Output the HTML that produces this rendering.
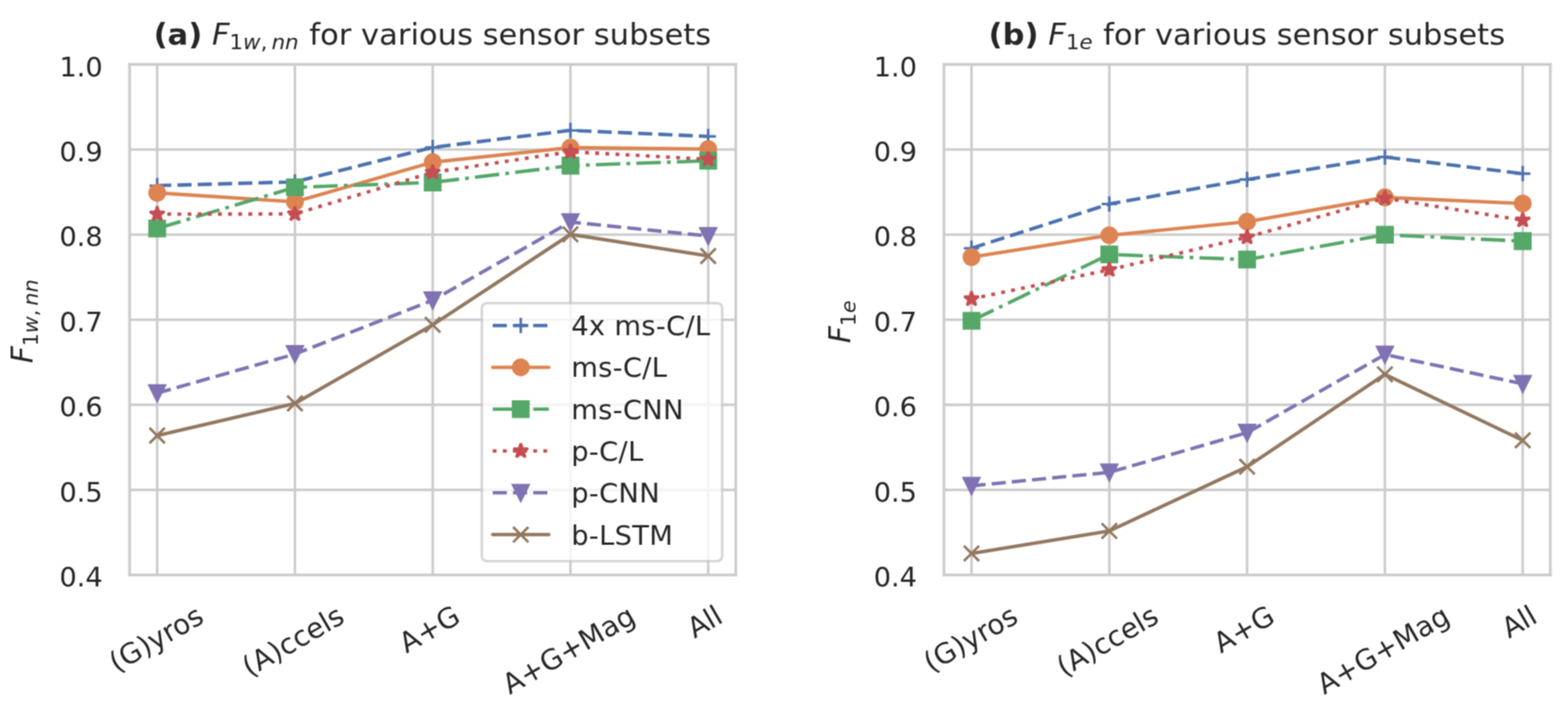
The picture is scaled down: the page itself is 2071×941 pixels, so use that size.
<!DOCTYPE html>
<html><head><meta charset="utf-8"><title>Sensor subsets</title>
<style>html,body{margin:0;padding:0;background:#fff;width:2071px;height:941px;overflow:hidden}svg{display:block}svg *{stroke-linejoin:round;stroke-linecap:butt}</style>
</head><body>
<svg width="2071" height="941" viewBox="0 0 2071 941"><defs><filter id="soft" x="0" y="0" width="1" height="1" color-interpolation-filters="sRGB"><feConvolveMatrix order="3" kernelMatrix="1 2 1 2 4 2 1 2 1" divisor="16" edgeMode="duplicate"/></filter></defs><g filter="url(#soft)">

<g id="figure_1">
<g id="patch_1">
<path d="M 0 941
L 2071 941
L 2071 0
L 0 0
z
" style="fill: #ffffff"/>
</g>
<g id="axes_1">
<g id="patch_2">
<path d="M 171.2 760
L 971.8 760
L 971.8 85.15
L 171.2 85.15
z
" style="fill: #ffffff"/>
</g>
<g id="matplotlib.axis_1">
<g id="xtick_1">
<g id="line2d_1">
<path d="M 207.590909 760
L 207.590909 85.15
" clip-path="url(#pf3c92c4328)" style="fill: none; stroke: #cccccc; stroke-width: 3.368; stroke-linecap: round"/>
</g>
<g id="text_1">
<text style="font-size: 37.048px; font-family: 'DejaVu Sans', 'Liberation Sans', sans-serif; fill: #262626" transform="translate(153.852 889.34135) rotate(-30)">(G)yros</text>
</g>
</g>
<g id="xtick_2">
<g id="line2d_2">
<path d="M 389.545455 760
L 389.545455 85.15
" clip-path="url(#pf3c92c4328)" style="fill: none; stroke: #cccccc; stroke-width: 3.368; stroke-linecap: round"/>
</g>
<g id="text_2">
<text style="font-size: 37.048px; font-family: 'DejaVu Sans', 'Liberation Sans', sans-serif; fill: #262626" transform="translate(329.539 895.078001) rotate(-30)">(A)ccels</text>
</g>
</g>
<g id="xtick_3">
<g id="line2d_3">
<path d="M 571.5 760
L 571.5 85.15
" clip-path="url(#pf3c92c4328)" style="fill: none; stroke: #cccccc; stroke-width: 3.368; stroke-linecap: round"/>
</g>
<g id="text_3">
<text style="font-size: 37.048px; font-family: 'DejaVu Sans', 'Liberation Sans', sans-serif; fill: #262626" transform="translate(536.764 863.934526) rotate(-30)">A+G</text>
</g>
</g>
<g id="xtick_4">
<g id="line2d_4">
<path d="M 753.454545 760
L 753.454545 85.15
" clip-path="url(#pf3c92c4328)" style="fill: none; stroke: #cccccc; stroke-width: 3.368; stroke-linecap: round"/>
</g>
<g id="text_4">
<text style="font-size: 37.048px; font-family: 'DejaVu Sans', 'Liberation Sans', sans-serif; fill: #262626" transform="translate(673.319 918.551383) rotate(-30)">A+G+Mag</text>
</g>
</g>
<g id="xtick_5">
<g id="line2d_5">
<path d="M 935.409091 760
L 935.409091 85.15
" clip-path="url(#pf3c92c4328)" style="fill: none; stroke: #cccccc; stroke-width: 3.368; stroke-linecap: round"/>
</g>
<g id="text_5">
<text style="font-size: 37.048px; font-family: 'DejaVu Sans', 'Liberation Sans', sans-serif; fill: #262626" transform="translate(917.133 844.351185) rotate(-30)">All</text>
</g>
</g>
</g>
<g id="matplotlib.axis_2">
<g id="ytick_1">
<g id="line2d_6">
<path d="M 171.2 760
L 971.8 760
" clip-path="url(#pf3c92c4328)" style="fill: none; stroke: #cccccc; stroke-width: 3.368; stroke-linecap: round"/>
</g>
<g id="text_6">
<text style="font-size: 36.00px; font-family: 'DejaVu Sans', 'Liberation Sans', sans-serif; text-anchor: end; fill: #262626" x="135.692" y="774.075346" transform="translate(0 1.30) rotate(-0 135.692 774.075346)">0.4</text>
</g>
</g>
<g id="ytick_2">
<g id="line2d_7">
<path d="M 171.2 647.525
L 971.8 647.525
" clip-path="url(#pf3c92c4328)" style="fill: none; stroke: #cccccc; stroke-width: 3.368; stroke-linecap: round"/>
</g>
<g id="text_7">
<text style="font-size: 36.00px; font-family: 'DejaVu Sans', 'Liberation Sans', sans-serif; text-anchor: end; fill: #262626" x="135.692" y="661.600346" transform="translate(0 1.30) rotate(-0 135.692 661.600346)">0.5</text>
</g>
</g>
<g id="ytick_3">
<g id="line2d_8">
<path d="M 171.2 535.05
L 971.8 535.05
" clip-path="url(#pf3c92c4328)" style="fill: none; stroke: #cccccc; stroke-width: 3.368; stroke-linecap: round"/>
</g>
<g id="text_8">
<text style="font-size: 36.00px; font-family: 'DejaVu Sans', 'Liberation Sans', sans-serif; text-anchor: end; fill: #262626" x="135.692" y="549.125346" transform="translate(0 1.30) rotate(-0 135.692 549.125346)">0.6</text>
</g>
</g>
<g id="ytick_4">
<g id="line2d_9">
<path d="M 171.2 422.575
L 971.8 422.575
" clip-path="url(#pf3c92c4328)" style="fill: none; stroke: #cccccc; stroke-width: 3.368; stroke-linecap: round"/>
</g>
<g id="text_9">
<text style="font-size: 36.00px; font-family: 'DejaVu Sans', 'Liberation Sans', sans-serif; text-anchor: end; fill: #262626" x="135.692" y="436.650346" transform="translate(0 1.30) rotate(-0 135.692 436.650346)">0.7</text>
</g>
</g>
<g id="ytick_5">
<g id="line2d_10">
<path d="M 171.2 310.1
L 971.8 310.1
" clip-path="url(#pf3c92c4328)" style="fill: none; stroke: #cccccc; stroke-width: 3.368; stroke-linecap: round"/>
</g>
<g id="text_10">
<text style="font-size: 36.00px; font-family: 'DejaVu Sans', 'Liberation Sans', sans-serif; text-anchor: end; fill: #262626" x="135.692" y="324.175346" transform="translate(0 1.30) rotate(-0 135.692 324.175346)">0.8</text>
</g>
</g>
<g id="ytick_6">
<g id="line2d_11">
<path d="M 171.2 197.625
L 971.8 197.625
" clip-path="url(#pf3c92c4328)" style="fill: none; stroke: #cccccc; stroke-width: 3.368; stroke-linecap: round"/>
</g>
<g id="text_11">
<text style="font-size: 36.00px; font-family: 'DejaVu Sans', 'Liberation Sans', sans-serif; text-anchor: end; fill: #262626" x="135.692" y="211.700346" transform="translate(0 1.30) rotate(-0 135.692 211.700346)">0.9</text>
</g>
</g>
<g id="ytick_7">
<g id="line2d_12">
<path d="M 171.2 85.15
L 971.8 85.15
" clip-path="url(#pf3c92c4328)" style="fill: none; stroke: #cccccc; stroke-width: 3.368; stroke-linecap: round"/>
</g>
<g id="text_12">
<text style="font-size: 36.00px; font-family: 'DejaVu Sans', 'Liberation Sans', sans-serif; text-anchor: end; fill: #262626" x="135.692" y="99.225346" transform="translate(0 1.30) rotate(-0 135.692 99.225346)">1.0</text>
</g>
</g>
<g id="text_13">
<g style="fill: #262626" transform="translate(44.024 480.040) rotate(-90)">
<text><tspan x="0.000" y="-0.5625" style="font-style: oblique; font-size: 39px; font-family: 'DejaVu Sans', 'Liberation Sans', sans-serif; fill: #262626">F</tspan><tspan x="22.433" y="5.835938" style="font-size: 27.3px; font-family: 'DejaVu Sans', 'Liberation Sans', sans-serif; fill: #262626">1</tspan><tspan x="39.802" y="5.835938" style="font-style: oblique; font-size: 27.3px; font-family: 'DejaVu Sans', 'Liberation Sans', sans-serif; fill: #262626">w</tspan><tspan x="62.130" y="5.835938" style="font-size: 27.3px; font-family: 'DejaVu Sans', 'Liberation Sans', sans-serif; fill: #262626">,</tspan><tspan x="76.126" y="5.835938" style="font-style: oblique; font-size: 27.3px; font-family: 'DejaVu Sans', 'Liberation Sans', sans-serif; fill: #262626">nn</tspan></text>
</g>
</g>
</g>
<g id="line2d_13">
<path d="M 207.590909 245.3144
L 389.545455 240.3655
L 571.5 194.813125
L 753.454545 172.318125
L 935.409091 180.30385
" clip-path="url(#pf3c92c4328)" style="fill: none; stroke-dasharray: 18.685,8.08; stroke-dashoffset: 0; stroke: #4c72b0; stroke-width: 4.6"/>

<g clip-path="url(#pf3c92c4328)">
<path d="M -10.104 0
L 10.104 0
M 0 10.104
L 0 -10.104
" transform="translate(207.590909 245.3144)" style="fill: #4c72b0; stroke: #4c72b0; stroke-width: 3.368; stroke: #4c72b0; stroke-width: 3.368"/>
<path d="M -10.104 0
L 10.104 0
M 0 10.104
L 0 -10.104
" transform="translate(389.545455 240.3655)" style="fill: #4c72b0; stroke: #4c72b0; stroke-width: 3.368; stroke: #4c72b0; stroke-width: 3.368"/>
<path d="M -10.104 0
L 10.104 0
M 0 10.104
L 0 -10.104
" transform="translate(571.5 194.813125)" style="fill: #4c72b0; stroke: #4c72b0; stroke-width: 3.368; stroke: #4c72b0; stroke-width: 3.368"/>
<path d="M -10.104 0
L 10.104 0
M 0 10.104
L 0 -10.104
" transform="translate(753.454545 172.318125)" style="fill: #4c72b0; stroke: #4c72b0; stroke-width: 3.368; stroke: #4c72b0; stroke-width: 3.368"/>
<path d="M -10.104 0
L 10.104 0
M 0 10.104
L 0 -10.104
" transform="translate(935.409091 180.30385)" style="fill: #4c72b0; stroke: #4c72b0; stroke-width: 3.368; stroke: #4c72b0; stroke-width: 3.368"/>
</g>
</g>
<g id="line2d_14">
<path d="M 207.590909 254.874775
L 389.545455 266.797125
L 571.5 214.383775
L 753.454545 195.038075
L 935.409091 197.062625
" clip-path="url(#pf3c92c4328)" style="fill: none; stroke: #dd8452; stroke-width: 4.6; stroke-linecap: round"/>

<g clip-path="url(#pf3c92c4328)">
<path d="M 0 10.104
C 2.679612 10.104 5.249835 9.039379 7.144607 7.144607
C 9.039379 5.249835 10.104 2.679612 10.104 0
C 10.104 -2.679612 9.039379 -5.249835 7.144607 -7.144607
C 5.249835 -9.039379 2.679612 -10.104 0 -10.104
C -2.679612 -10.104 -5.249835 -9.039379 -7.144607 -7.144607
C -9.039379 -5.249835 -10.104 -2.679612 -10.104 0
C -10.104 2.679612 -9.039379 5.249835 -7.144607 7.144607
C -5.249835 9.039379 -2.679612 10.104 0 10.104
z
" transform="translate(207.590909 254.874775)" style="fill: #dd8452; stroke: #dd8452; stroke-width: 3.368; stroke: #dd8452; stroke-width: 3.368"/>
<path d="M 0 10.104
C 2.679612 10.104 5.249835 9.039379 7.144607 7.144607
C 9.039379 5.249835 10.104 2.679612 10.104 0
C 10.104 -2.679612 9.039379 -5.249835 7.144607 -7.144607
C 5.249835 -9.039379 2.679612 -10.104 0 -10.104
C -2.679612 -10.104 -5.249835 -9.039379 -7.144607 -7.144607
C -9.039379 -5.249835 -10.104 -2.679612 -10.104 0
C -10.104 2.679612 -9.039379 5.249835 -7.144607 7.144607
C -5.249835 9.039379 -2.679612 10.104 0 10.104
z
" transform="translate(389.545455 266.797125)" style="fill: #dd8452; stroke: #dd8452; stroke-width: 3.368; stroke: #dd8452; stroke-width: 3.368"/>
<path d="M 0 10.104
C 2.679612 10.104 5.249835 9.039379 7.144607 7.144607
C 9.039379 5.249835 10.104 2.679612 10.104 0
C 10.104 -2.679612 9.039379 -5.249835 7.144607 -7.144607
C 5.249835 -9.039379 2.679612 -10.104 0 -10.104
C -2.679612 -10.104 -5.249835 -9.039379 -7.144607 -7.144607
C -9.039379 -5.249835 -10.104 -2.679612 -10.104 0
C -10.104 2.679612 -9.039379 5.249835 -7.144607 7.144607
C -5.249835 9.039379 -2.679612 10.104 0 10.104
z
" transform="translate(571.5 214.383775)" style="fill: #dd8452; stroke: #dd8452; stroke-width: 3.368; stroke: #dd8452; stroke-width: 3.368"/>
<path d="M 0 10.104
C 2.679612 10.104 5.249835 9.039379 7.144607 7.144607
C 9.039379 5.249835 10.104 2.679612 10.104 0
C 10.104 -2.679612 9.039379 -5.249835 7.144607 -7.144607
C 5.249835 -9.039379 2.679612 -10.104 0 -10.104
C -2.679612 -10.104 -5.249835 -9.039379 -7.144607 -7.144607
C -9.039379 -5.249835 -10.104 -2.679612 -10.104 0
C -10.104 2.679612 -9.039379 5.249835 -7.144607 7.144607
C -5.249835 9.039379 -2.679612 10.104 0 10.104
z
" transform="translate(753.454545 195.038075)" style="fill: #dd8452; stroke: #dd8452; stroke-width: 3.368; stroke: #dd8452; stroke-width: 3.368"/>
<path d="M 0 10.104
C 2.679612 10.104 5.249835 9.039379 7.144607 7.144607
C 9.039379 5.249835 10.104 2.679612 10.104 0
C 10.104 -2.679612 9.039379 -5.249835 7.144607 -7.144607
C 5.249835 -9.039379 2.679612 -10.104 0 -10.104
C -2.679612 -10.104 -5.249835 -9.039379 -7.144607 -7.144607
C -9.039379 -5.249835 -10.104 -2.679612 -10.104 0
C -10.104 2.679612 -9.039379 5.249835 -7.144607 7.144607
C -5.249835 9.039379 -2.679612 10.104 0 10.104
z
" transform="translate(935.409091 197.062625)" style="fill: #dd8452; stroke: #dd8452; stroke-width: 3.368; stroke: #dd8452; stroke-width: 3.368"/>
</g>
</g>
<g id="line2d_15">
<path d="M 207.590909 302.0018
L 389.545455 247.5639
L 571.5 241.152825
L 753.454545 218.882775
L 935.409091 212.4717
" clip-path="url(#pf3c92c4328)" style="fill: none; stroke-dasharray: 32.32,8.08,5.05,8.08; stroke-dashoffset: 0; stroke: #55a868; stroke-width: 4.6"/>

<g clip-path="url(#pf3c92c4328)">
<path d="M -10.104 10.104
L 10.104 10.104
L 10.104 -10.104
L -10.104 -10.104
z
" transform="translate(207.590909 302.0018)" style="fill: #55a868; stroke: #55a868; stroke-width: 3.368; stroke-linejoin: miter; stroke: #55a868; stroke-width: 3.368; stroke-linejoin: miter"/>
<path d="M -10.104 10.104
L 10.104 10.104
L 10.104 -10.104
L -10.104 -10.104
z
" transform="translate(389.545455 247.5639)" style="fill: #55a868; stroke: #55a868; stroke-width: 3.368; stroke-linejoin: miter; stroke: #55a868; stroke-width: 3.368; stroke-linejoin: miter"/>
<path d="M -10.104 10.104
L 10.104 10.104
L 10.104 -10.104
L -10.104 -10.104
z
" transform="translate(571.5 241.152825)" style="fill: #55a868; stroke: #55a868; stroke-width: 3.368; stroke-linejoin: miter; stroke: #55a868; stroke-width: 3.368; stroke-linejoin: miter"/>
<path d="M -10.104 10.104
L 10.104 10.104
L 10.104 -10.104
L -10.104 -10.104
z
" transform="translate(753.454545 218.882775)" style="fill: #55a868; stroke: #55a868; stroke-width: 3.368; stroke-linejoin: miter; stroke: #55a868; stroke-width: 3.368; stroke-linejoin: miter"/>
<path d="M -10.104 10.104
L 10.104 10.104
L 10.104 -10.104
L -10.104 -10.104
z
" transform="translate(935.409091 212.4717)" style="fill: #55a868; stroke: #55a868; stroke-width: 3.368; stroke-linejoin: miter; stroke: #55a868; stroke-width: 3.368; stroke-linejoin: miter"/>
</g>
</g>
<g id="line2d_16">
<path d="M 207.590909 282.993525
L 389.545455 282.768575
L 571.5 227.7683
L 753.454545 200.54935
L 935.409091 210.559625
" clip-path="url(#pf3c92c4328)" style="fill: none; stroke-dasharray: 5.05,8.3325; stroke-dashoffset: 0; stroke: #c44e52; stroke-width: 4.6"/>

<g clip-path="url(#pf3c92c4328)">
<path d="M 0 -10.104
L -2.268489 -3.122308
L -9.609475 -3.122308
L -3.670493 1.192615
L -5.938982 8.174308
L -0 3.859384
L 5.938982 8.174308
L 3.670493 1.192615
L 9.609475 -3.122308
L 2.268489 -3.122308
z
" transform="translate(207.590909 282.993525)" style="fill: #c44e52; stroke: #c44e52; stroke-width: 3.368; stroke-linejoin: bevel; stroke: #c44e52; stroke-width: 3.368; stroke-linejoin: bevel"/>
<path d="M 0 -10.104
L -2.268489 -3.122308
L -9.609475 -3.122308
L -3.670493 1.192615
L -5.938982 8.174308
L -0 3.859384
L 5.938982 8.174308
L 3.670493 1.192615
L 9.609475 -3.122308
L 2.268489 -3.122308
z
" transform="translate(389.545455 282.768575)" style="fill: #c44e52; stroke: #c44e52; stroke-width: 3.368; stroke-linejoin: bevel; stroke: #c44e52; stroke-width: 3.368; stroke-linejoin: bevel"/>
<path d="M 0 -10.104
L -2.268489 -3.122308
L -9.609475 -3.122308
L -3.670493 1.192615
L -5.938982 8.174308
L -0 3.859384
L 5.938982 8.174308
L 3.670493 1.192615
L 9.609475 -3.122308
L 2.268489 -3.122308
z
" transform="translate(571.5 227.7683)" style="fill: #c44e52; stroke: #c44e52; stroke-width: 3.368; stroke-linejoin: bevel; stroke: #c44e52; stroke-width: 3.368; stroke-linejoin: bevel"/>
<path d="M 0 -10.104
L -2.268489 -3.122308
L -9.609475 -3.122308
L -3.670493 1.192615
L -5.938982 8.174308
L -0 3.859384
L 5.938982 8.174308
L 3.670493 1.192615
L 9.609475 -3.122308
L 2.268489 -3.122308
z
" transform="translate(753.454545 200.54935)" style="fill: #c44e52; stroke: #c44e52; stroke-width: 3.368; stroke-linejoin: bevel; stroke: #c44e52; stroke-width: 3.368; stroke-linejoin: bevel"/>
<path d="M 0 -10.104
L -2.268489 -3.122308
L -9.609475 -3.122308
L -3.670493 1.192615
L -5.938982 8.174308
L -0 3.859384
L 5.938982 8.174308
L 3.670493 1.192615
L 9.609475 -3.122308
L 2.268489 -3.122308
z
" transform="translate(935.409091 210.559625)" style="fill: #c44e52; stroke: #c44e52; stroke-width: 3.368; stroke-linejoin: bevel; stroke: #c44e52; stroke-width: 3.368; stroke-linejoin: bevel"/>
</g>
</g>
<g id="line2d_17">
<path d="M 207.590909 519.52845
L 389.545455 467.902425
L 571.5 396.818225
L 753.454545 293.4537
L 935.409091 311.8996
" clip-path="url(#pf3c92c4328)" style="fill: none; stroke-dasharray: 18.685,8.08; stroke-dashoffset: 0; stroke: #8172b3; stroke-width: 4.6"/>

<g clip-path="url(#pf3c92c4328)">
<path d="M -0 10.104
L 10.104 -10.104
L -10.104 -10.104
z
" transform="translate(207.590909 519.52845)" style="fill: #8172b3; stroke: #8172b3; stroke-width: 3.368; stroke-linejoin: miter; stroke: #8172b3; stroke-width: 3.368; stroke-linejoin: miter"/>
<path d="M -0 10.104
L 10.104 -10.104
L -10.104 -10.104
z
" transform="translate(389.545455 467.902425)" style="fill: #8172b3; stroke: #8172b3; stroke-width: 3.368; stroke-linejoin: miter; stroke: #8172b3; stroke-width: 3.368; stroke-linejoin: miter"/>
<path d="M -0 10.104
L 10.104 -10.104
L -10.104 -10.104
z
" transform="translate(571.5 396.818225)" style="fill: #8172b3; stroke: #8172b3; stroke-width: 3.368; stroke-linejoin: miter; stroke: #8172b3; stroke-width: 3.368; stroke-linejoin: miter"/>
<path d="M -0 10.104
L 10.104 -10.104
L -10.104 -10.104
z
" transform="translate(753.454545 293.4537)" style="fill: #8172b3; stroke: #8172b3; stroke-width: 3.368; stroke-linejoin: miter; stroke: #8172b3; stroke-width: 3.368; stroke-linejoin: miter"/>
<path d="M -0 10.104
L 10.104 -10.104
L -10.104 -10.104
z
" transform="translate(935.409091 311.8996)" style="fill: #8172b3; stroke: #8172b3; stroke-width: 3.368; stroke-linejoin: miter; stroke: #8172b3; stroke-width: 3.368; stroke-linejoin: miter"/>
</g>
</g>
<g id="line2d_18">
<path d="M 207.590909 575.653475
L 389.545455 533.137925
L 571.5 429.3235
L 753.454545 309.762575
L 935.409091 338.331225
" clip-path="url(#pf3c92c4328)" style="fill: none; stroke: #937860; stroke-width: 4.6; stroke-linecap: round"/>

<g clip-path="url(#pf3c92c4328)">
<path d="M -10.104 10.104
L 10.104 -10.104
M -10.104 -10.104
L 10.104 10.104
" transform="translate(207.590909 575.653475)" style="fill: #937860; stroke: #937860; stroke-width: 3.368; stroke: #937860; stroke-width: 3.368"/>
<path d="M -10.104 10.104
L 10.104 -10.104
M -10.104 -10.104
L 10.104 10.104
" transform="translate(389.545455 533.137925)" style="fill: #937860; stroke: #937860; stroke-width: 3.368; stroke: #937860; stroke-width: 3.368"/>
<path d="M -10.104 10.104
L 10.104 -10.104
M -10.104 -10.104
L 10.104 10.104
" transform="translate(571.5 429.3235)" style="fill: #937860; stroke: #937860; stroke-width: 3.368; stroke: #937860; stroke-width: 3.368"/>
<path d="M -10.104 10.104
L 10.104 -10.104
M -10.104 -10.104
L 10.104 10.104
" transform="translate(753.454545 309.762575)" style="fill: #937860; stroke: #937860; stroke-width: 3.368; stroke: #937860; stroke-width: 3.368"/>
<path d="M -10.104 10.104
L 10.104 -10.104
M -10.104 -10.104
L 10.104 10.104
" transform="translate(935.409091 338.331225)" style="fill: #937860; stroke: #937860; stroke-width: 3.368; stroke: #937860; stroke-width: 3.368"/>
</g>
</g>
<g id="patch_3">
<path d="M 171.2 760
L 171.2 85.15
" style="fill: none; stroke: #cccccc; stroke-width: 3.6; stroke-linejoin: miter; stroke-linecap: square"/>
</g>
<g id="patch_4">
<path d="M 971.8 760
L 971.8 85.15
" style="fill: none; stroke: #cccccc; stroke-width: 3.6; stroke-linejoin: miter; stroke-linecap: square"/>
</g>
<g id="patch_5">
<path d="M 171.2 760
L 971.8 760
" style="fill: none; stroke: #cccccc; stroke-width: 3.6; stroke-linejoin: miter; stroke-linecap: square"/>
</g>
<g id="patch_6">
<path d="M 171.2 85.15
L 971.8 85.15
" style="fill: none; stroke: #cccccc; stroke-width: 3.6; stroke-linejoin: miter; stroke-linecap: square"/>
</g>
<g id="text_14">
<g style="fill: #262626" transform="translate(202.90608 59.45) scale(1 0.95)">
<text><tspan x="0.000" y="-0.609375" style="font-weight: 700; font-size: 40.416px; font-family: 'DejaVu Sans', 'Liberation Sans', sans-serif; fill: #262626">(a)</tspan> <tspan x="76.985" y="-0.609375" style="font-style: oblique; font-size: 40.416px; font-family: 'DejaVu Sans', 'Liberation Sans', sans-serif; fill: #262626">F</tspan><tspan x="100.208" y="5.953125" style="font-size: 28.2912px; font-family: 'DejaVu Sans', 'Liberation Sans', sans-serif; fill: #262626">1</tspan><tspan x="118.190" y="5.953125" style="font-style: oblique; font-size: 28.2912px; font-family: 'DejaVu Sans', 'Liberation Sans', sans-serif; fill: #262626">w</tspan><tspan x="141.305" y="5.953125" style="font-size: 28.2912px; font-family: 'DejaVu Sans', 'Liberation Sans', sans-serif; fill: #262626">,</tspan><tspan x="155.795" y="5.953125" style="font-style: oblique; font-size: 28.2912px; font-family: 'DejaVu Sans', 'Liberation Sans', sans-serif; fill: #262626">nn</tspan> <tspan x="205.547" y="-0.609375" style="font-size: 40.416px; font-family: 'DejaVu Sans', 'Liberation Sans', sans-serif; fill: #262626">for various sensor subsets</tspan></text>
</g>
</g>
<g id="legend_1">
<g id="patch_7">
<path d="M 643.805925 741.6
L 946.4904 741.6
Q 953.9 741.6 953.9 734.1904
L 953.9 408.061487
Q 953.9 400.651887 946.4904 400.651887
L 643.805925 400.651887
Q 636.396325 400.651887 636.396325 408.061487
L 636.396325 734.1904
Q 636.396325 741.6 643.805925 741.6
z
" style="fill: #ffffff; opacity: 0.8; stroke: #cccccc; stroke-width: 3.368; stroke-linejoin: miter"/>
</g>
<g id="line2d_19">
<path d="M 650.770949 430.210402
L 687.818949 430.210402
L 724.866949 430.210402
" style="fill: none; stroke-dasharray: 18.685,8.08; stroke-dashoffset: 0; stroke: #4c72b0; stroke-width: 4.6"/>
<g>
<path d="M -10.104 0
L 10.104 0
M 0 10.104
L 0 -10.104
" transform="translate(687.818949 430.210402)" style="fill: #4c72b0; stroke: #4c72b0; stroke-width: 3.368; stroke: #4c72b0; stroke-width: 3.368"/>
</g>
</g>
<g id="text_15">
<text style="font-size: 36.20px; letter-spacing: 0.35px; font-family: 'DejaVu Sans', 'Liberation Sans', sans-serif; text-anchor: start; fill: #262626" x="754.505349" y="443.177202" transform="rotate(-0 754.505349 443.177202)">4x ms-C/L</text>
</g>
<g id="line2d_20">
<path d="M 650.770949 485.479072
L 687.818949 485.479072
L 724.866949 485.479072
" style="fill: none; stroke: #dd8452; stroke-width: 4.6; stroke-linecap: round"/>
<g>
<path d="M 0 10.104
C 2.679612 10.104 5.249835 9.039379 7.144607 7.144607
C 9.039379 5.249835 10.104 2.679612 10.104 0
C 10.104 -2.679612 9.039379 -5.249835 7.144607 -7.144607
C 5.249835 -9.039379 2.679612 -10.104 0 -10.104
C -2.679612 -10.104 -5.249835 -9.039379 -7.144607 -7.144607
C -9.039379 -5.249835 -10.104 -2.679612 -10.104 0
C -10.104 2.679612 -9.039379 5.249835 -7.144607 7.144607
C -5.249835 9.039379 -2.679612 10.104 0 10.104
z
" transform="translate(687.818949 485.479072)" style="fill: #dd8452; stroke: #dd8452; stroke-width: 3.368; stroke: #dd8452; stroke-width: 3.368"/>
</g>
</g>
<g id="text_16">
<text style="font-size: 36.20px; letter-spacing: 0.35px; font-family: 'DejaVu Sans', 'Liberation Sans', sans-serif; text-anchor: start; fill: #262626" x="754.505349" y="498.445872" transform="rotate(-0 754.505349 498.445872)">ms-C/L</text>
</g>
<g id="line2d_21">
<path d="M 650.770949 540.747741
L 687.818949 540.747741
L 724.866949 540.747741
" style="fill: none; stroke-dasharray: 32.32,8.08,5.05,8.08; stroke-dashoffset: 0; stroke: #55a868; stroke-width: 4.6"/>
<g>
<path d="M -10.104 10.104
L 10.104 10.104
L 10.104 -10.104
L -10.104 -10.104
z
" transform="translate(687.818949 540.747741)" style="fill: #55a868; stroke: #55a868; stroke-width: 3.368; stroke-linejoin: miter; stroke: #55a868; stroke-width: 3.368; stroke-linejoin: miter"/>
</g>
</g>
<g id="text_17">
<text style="font-size: 36.20px; letter-spacing: 0.35px; font-family: 'DejaVu Sans', 'Liberation Sans', sans-serif; text-anchor: start; fill: #262626" x="754.505349" y="553.714541" transform="rotate(-0 754.505349 553.714541)">ms-CNN</text>
</g>
<g id="line2d_22">
<path d="M 650.770949 596.016411
L 687.818949 596.016411
L 724.866949 596.016411
" style="fill: none; stroke-dasharray: 5.05,8.3325; stroke-dashoffset: 0; stroke: #c44e52; stroke-width: 4.6"/>
<g>
<path d="M 0 -10.104
L -2.268489 -3.122308
L -9.609475 -3.122308
L -3.670493 1.192615
L -5.938982 8.174308
L -0 3.859384
L 5.938982 8.174308
L 3.670493 1.192615
L 9.609475 -3.122308
L 2.268489 -3.122308
z
" transform="translate(687.818949 596.016411)" style="fill: #c44e52; stroke: #c44e52; stroke-width: 3.368; stroke-linejoin: bevel; stroke: #c44e52; stroke-width: 3.368; stroke-linejoin: bevel"/>
</g>
</g>
<g id="text_18">
<text style="font-size: 36.20px; letter-spacing: 0.35px; font-family: 'DejaVu Sans', 'Liberation Sans', sans-serif; text-anchor: start; fill: #262626" x="754.505349" y="608.983211" transform="rotate(-0 754.505349 608.983211)">p-C/L</text>
</g>
<g id="line2d_23">
<path d="M 650.770949 651.28508
L 687.818949 651.28508
L 724.866949 651.28508
" style="fill: none; stroke-dasharray: 18.685,8.08; stroke-dashoffset: 0; stroke: #8172b3; stroke-width: 4.6"/>
<g>
<path d="M -0 10.104
L 10.104 -10.104
L -10.104 -10.104
z
" transform="translate(687.818949 651.28508)" style="fill: #8172b3; stroke: #8172b3; stroke-width: 3.368; stroke-linejoin: miter; stroke: #8172b3; stroke-width: 3.368; stroke-linejoin: miter"/>
</g>
</g>
<g id="text_19">
<text style="font-size: 36.20px; letter-spacing: 0.35px; font-family: 'DejaVu Sans', 'Liberation Sans', sans-serif; text-anchor: start; fill: #262626" x="754.505349" y="664.25188" transform="rotate(-0 754.505349 664.25188)">p-CNN</text>
</g>
<g id="line2d_24">
<path d="M 650.770949 706.55375
L 687.818949 706.55375
L 724.866949 706.55375
" style="fill: none; stroke: #937860; stroke-width: 4.6; stroke-linecap: round"/>
<g>
<path d="M -10.104 10.104
L 10.104 -10.104
M -10.104 -10.104
L 10.104 10.104
" transform="translate(687.818949 706.55375)" style="fill: #937860; stroke: #937860; stroke-width: 3.368; stroke: #937860; stroke-width: 3.368"/>
</g>
</g>
<g id="text_20">
<text style="font-size: 36.20px; letter-spacing: 0.35px; font-family: 'DejaVu Sans', 'Liberation Sans', sans-serif; text-anchor: start; fill: #262626" x="754.505349" y="719.52055" transform="rotate(-0 754.505349 719.52055)">b-LSTM</text>
</g>
</g>
</g>
<g id="axes_2">
<g id="patch_8">
<path d="M 1246.75 760
L 2047.6 760
L 2047.6 85.15
L 1246.75 85.15
z
" style="fill: #ffffff"/>
</g>
<g id="matplotlib.axis_3">
<g id="xtick_6">
<g id="line2d_25">
<path d="M 1283.152273 760
L 1283.152273 85.15
" clip-path="url(#pe6a1229e98)" style="fill: none; stroke: #cccccc; stroke-width: 3.368; stroke-linecap: round"/>
</g>
<g id="text_21">
<text style="font-size: 37.048px; font-family: 'DejaVu Sans', 'Liberation Sans', sans-serif; fill: #262626" transform="translate(1229.414 889.34135) rotate(-30)">(G)yros</text>
</g>
</g>
<g id="xtick_7">
<g id="line2d_26">
<path d="M 1465.163636 760
L 1465.163636 85.15
" clip-path="url(#pe6a1229e98)" style="fill: none; stroke: #cccccc; stroke-width: 3.368; stroke-linecap: round"/>
</g>
<g id="text_22">
<text style="font-size: 37.048px; font-family: 'DejaVu Sans', 'Liberation Sans', sans-serif; fill: #262626" transform="translate(1405.157 895.078001) rotate(-30)">(A)ccels</text>
</g>
</g>
<g id="xtick_8">
<g id="line2d_27">
<path d="M 1647.175 760
L 1647.175 85.15
" clip-path="url(#pe6a1229e98)" style="fill: none; stroke: #cccccc; stroke-width: 3.368; stroke-linecap: round"/>
</g>
<g id="text_23">
<text style="font-size: 37.048px; font-family: 'DejaVu Sans', 'Liberation Sans', sans-serif; fill: #262626" transform="translate(1612.439 863.934526) rotate(-30)">A+G</text>
</g>
</g>
<g id="xtick_9">
<g id="line2d_28">
<path d="M 1829.186364 760
L 1829.186364 85.15
" clip-path="url(#pe6a1229e98)" style="fill: none; stroke: #cccccc; stroke-width: 3.368; stroke-linecap: round"/>
</g>
<g id="text_24">
<text style="font-size: 37.048px; font-family: 'DejaVu Sans', 'Liberation Sans', sans-serif; fill: #262626" transform="translate(1749.051 918.551383) rotate(-30)">A+G+Mag</text>
</g>
</g>
<g id="xtick_10">
<g id="line2d_29">
<path d="M 2011.197727 760
L 2011.197727 85.15
" clip-path="url(#pe6a1229e98)" style="fill: none; stroke: #cccccc; stroke-width: 3.368; stroke-linecap: round"/>
</g>
<g id="text_25">
<text style="font-size: 37.048px; font-family: 'DejaVu Sans', 'Liberation Sans', sans-serif; fill: #262626" transform="translate(1992.922 844.351185) rotate(-30)">All</text>
</g>
</g>
</g>
<g id="matplotlib.axis_4">
<g id="ytick_8">
<g id="line2d_30">
<path d="M 1246.75 760
L 2047.6 760
" clip-path="url(#pe6a1229e98)" style="fill: none; stroke: #cccccc; stroke-width: 3.368; stroke-linecap: round"/>
</g>
<g id="text_26">
<text style="font-size: 36.00px; font-family: 'DejaVu Sans', 'Liberation Sans', sans-serif; text-anchor: end; fill: #262626" x="1211.242" y="774.075346" transform="translate(0 1.30) rotate(-0 1211.242 774.075346)">0.4</text>
</g>
</g>
<g id="ytick_9">
<g id="line2d_31">
<path d="M 1246.75 647.525
L 2047.6 647.525
" clip-path="url(#pe6a1229e98)" style="fill: none; stroke: #cccccc; stroke-width: 3.368; stroke-linecap: round"/>
</g>
<g id="text_27">
<text style="font-size: 36.00px; font-family: 'DejaVu Sans', 'Liberation Sans', sans-serif; text-anchor: end; fill: #262626" x="1211.242" y="661.600346" transform="translate(0 1.30) rotate(-0 1211.242 661.600346)">0.5</text>
</g>
</g>
<g id="ytick_10">
<g id="line2d_32">
<path d="M 1246.75 535.05
L 2047.6 535.05
" clip-path="url(#pe6a1229e98)" style="fill: none; stroke: #cccccc; stroke-width: 3.368; stroke-linecap: round"/>
</g>
<g id="text_28">
<text style="font-size: 36.00px; font-family: 'DejaVu Sans', 'Liberation Sans', sans-serif; text-anchor: end; fill: #262626" x="1211.242" y="549.125346" transform="translate(0 1.30) rotate(-0 1211.242 549.125346)">0.6</text>
</g>
</g>
<g id="ytick_11">
<g id="line2d_33">
<path d="M 1246.75 422.575
L 2047.6 422.575
" clip-path="url(#pe6a1229e98)" style="fill: none; stroke: #cccccc; stroke-width: 3.368; stroke-linecap: round"/>
</g>
<g id="text_29">
<text style="font-size: 36.00px; font-family: 'DejaVu Sans', 'Liberation Sans', sans-serif; text-anchor: end; fill: #262626" x="1211.242" y="436.650346" transform="translate(0 1.30) rotate(-0 1211.242 436.650346)">0.7</text>
</g>
</g>
<g id="ytick_12">
<g id="line2d_34">
<path d="M 1246.75 310.1
L 2047.6 310.1
" clip-path="url(#pe6a1229e98)" style="fill: none; stroke: #cccccc; stroke-width: 3.368; stroke-linecap: round"/>
</g>
<g id="text_30">
<text style="font-size: 36.00px; font-family: 'DejaVu Sans', 'Liberation Sans', sans-serif; text-anchor: end; fill: #262626" x="1211.242" y="324.175346" transform="translate(0 1.30) rotate(-0 1211.242 324.175346)">0.8</text>
</g>
</g>
<g id="ytick_13">
<g id="line2d_35">
<path d="M 1246.75 197.625
L 2047.6 197.625
" clip-path="url(#pe6a1229e98)" style="fill: none; stroke: #cccccc; stroke-width: 3.368; stroke-linecap: round"/>
</g>
<g id="text_31">
<text style="font-size: 36.00px; font-family: 'DejaVu Sans', 'Liberation Sans', sans-serif; text-anchor: end; fill: #262626" x="1211.242" y="211.700346" transform="translate(0 1.30) rotate(-0 1211.242 211.700346)">0.9</text>
</g>
</g>
<g id="ytick_14">
<g id="line2d_36">
<path d="M 1246.75 85.15
L 2047.6 85.15
" clip-path="url(#pe6a1229e98)" style="fill: none; stroke: #cccccc; stroke-width: 3.368; stroke-linecap: round"/>
</g>
<g id="text_32">
<text style="font-size: 36.00px; font-family: 'DejaVu Sans', 'Liberation Sans', sans-serif; text-anchor: end; fill: #262626" x="1211.242" y="99.225346" transform="translate(0 1.30) rotate(-0 1211.242 99.225346)">1.0</text>
</g>
</g>
<g id="text_33">
<g style="fill: #262626" transform="translate(1123.713 453.435) rotate(-90)">
<text><tspan x="0.000" y="-0.5625" style="font-style: oblique; font-size: 39px; font-family: 'DejaVu Sans', 'Liberation Sans', sans-serif; fill: #262626">F</tspan><tspan x="22.433" y="5.835938" style="font-size: 27.3px; font-family: 'DejaVu Sans', 'Liberation Sans', sans-serif; fill: #262626">1</tspan><tspan x="39.802" y="5.835938" style="font-style: oblique; font-size: 27.3px; font-family: 'DejaVu Sans', 'Liberation Sans', sans-serif; fill: #262626">e</tspan></text>
</g>
</g>
</g>
<g id="line2d_37">
<path d="M 1283.152273 328.096
L 1465.163636 269.609
L 1647.175 237.2162
L 1829.186364 207.5228
L 2011.197727 229.455425
" clip-path="url(#pe6a1229e98)" style="fill: none; stroke-dasharray: 18.685,8.08; stroke-dashoffset: 0; stroke: #4c72b0; stroke-width: 4.6"/>
<g clip-path="url(#pe6a1229e98)">
<path d="M -10.104 0
L 10.104 0
M 0 10.104
L 0 -10.104
" transform="translate(1283.152273 328.096)" style="fill: #4c72b0; stroke: #4c72b0; stroke-width: 3.368; stroke: #4c72b0; stroke-width: 3.368"/>
<path d="M -10.104 0
L 10.104 0
M 0 10.104
L 0 -10.104
" transform="translate(1465.163636 269.609)" style="fill: #4c72b0; stroke: #4c72b0; stroke-width: 3.368; stroke: #4c72b0; stroke-width: 3.368"/>
<path d="M -10.104 0
L 10.104 0
M 0 10.104
L 0 -10.104
" transform="translate(1647.175 237.2162)" style="fill: #4c72b0; stroke: #4c72b0; stroke-width: 3.368; stroke: #4c72b0; stroke-width: 3.368"/>
<path d="M -10.104 0
L 10.104 0
M 0 10.104
L 0 -10.104
" transform="translate(1829.186364 207.5228)" style="fill: #4c72b0; stroke: #4c72b0; stroke-width: 3.368; stroke: #4c72b0; stroke-width: 3.368"/>
<path d="M -10.104 0
L 10.104 0
M 0 10.104
L 0 -10.104
" transform="translate(2011.197727 229.455425)" style="fill: #4c72b0; stroke: #4c72b0; stroke-width: 3.368; stroke: #4c72b0; stroke-width: 3.368"/>
</g>
</g>
<g id="line2d_38">
<path d="M 1283.152273 339.7934
L 1465.163636 310.9998
L 1647.175 293.0038
L 1829.186364 260.83595
L 2011.197727 268.93415
" clip-path="url(#pe6a1229e98)" style="fill: none; stroke: #dd8452; stroke-width: 4.6; stroke-linecap: round"/>
<g clip-path="url(#pe6a1229e98)">
<path d="M 0 10.104
C 2.679612 10.104 5.249835 9.039379 7.144607 7.144607
C 9.039379 5.249835 10.104 2.679612 10.104 0
C 10.104 -2.679612 9.039379 -5.249835 7.144607 -7.144607
C 5.249835 -9.039379 2.679612 -10.104 0 -10.104
C -2.679612 -10.104 -5.249835 -9.039379 -7.144607 -7.144607
C -9.039379 -5.249835 -10.104 -2.679612 -10.104 0
C -10.104 2.679612 -9.039379 5.249835 -7.144607 7.144607
C -5.249835 9.039379 -2.679612 10.104 0 10.104
z
" transform="translate(1283.152273 339.7934)" style="fill: #dd8452; stroke: #dd8452; stroke-width: 3.368; stroke: #dd8452; stroke-width: 3.368"/>
<path d="M 0 10.104
C 2.679612 10.104 5.249835 9.039379 7.144607 7.144607
C 9.039379 5.249835 10.104 2.679612 10.104 0
C 10.104 -2.679612 9.039379 -5.249835 7.144607 -7.144607
C 5.249835 -9.039379 2.679612 -10.104 0 -10.104
C -2.679612 -10.104 -5.249835 -9.039379 -7.144607 -7.144607
C -9.039379 -5.249835 -10.104 -2.679612 -10.104 0
C -10.104 2.679612 -9.039379 5.249835 -7.144607 7.144607
C -5.249835 9.039379 -2.679612 10.104 0 10.104
z
" transform="translate(1465.163636 310.9998)" style="fill: #dd8452; stroke: #dd8452; stroke-width: 3.368; stroke: #dd8452; stroke-width: 3.368"/>
<path d="M 0 10.104
C 2.679612 10.104 5.249835 9.039379 7.144607 7.144607
C 9.039379 5.249835 10.104 2.679612 10.104 0
C 10.104 -2.679612 9.039379 -5.249835 7.144607 -7.144607
C 5.249835 -9.039379 2.679612 -10.104 0 -10.104
C -2.679612 -10.104 -5.249835 -9.039379 -7.144607 -7.144607
C -9.039379 -5.249835 -10.104 -2.679612 -10.104 0
C -10.104 2.679612 -9.039379 5.249835 -7.144607 7.144607
C -5.249835 9.039379 -2.679612 10.104 0 10.104
z
" transform="translate(1647.175 293.0038)" style="fill: #dd8452; stroke: #dd8452; stroke-width: 3.368; stroke: #dd8452; stroke-width: 3.368"/>
<path d="M 0 10.104
C 2.679612 10.104 5.249835 9.039379 7.144607 7.144607
C 9.039379 5.249835 10.104 2.679612 10.104 0
C 10.104 -2.679612 9.039379 -5.249835 7.144607 -7.144607
C 5.249835 -9.039379 2.679612 -10.104 0 -10.104
C -2.679612 -10.104 -5.249835 -9.039379 -7.144607 -7.144607
C -9.039379 -5.249835 -10.104 -2.679612 -10.104 0
C -10.104 2.679612 -9.039379 5.249835 -7.144607 7.144607
C -5.249835 9.039379 -2.679612 10.104 0 10.104
z
" transform="translate(1829.186364 260.83595)" style="fill: #dd8452; stroke: #dd8452; stroke-width: 3.368; stroke: #dd8452; stroke-width: 3.368"/>
<path d="M 0 10.104
C 2.679612 10.104 5.249835 9.039379 7.144607 7.144607
C 9.039379 5.249835 10.104 2.679612 10.104 0
C 10.104 -2.679612 9.039379 -5.249835 7.144607 -7.144607
C 5.249835 -9.039379 2.679612 -10.104 0 -10.104
C -2.679612 -10.104 -5.249835 -9.039379 -7.144607 -7.144607
C -9.039379 -5.249835 -10.104 -2.679612 -10.104 0
C -10.104 2.679612 -9.039379 5.249835 -7.144607 7.144607
C -5.249835 9.039379 -2.679612 10.104 0 10.104
z
" transform="translate(2011.197727 268.93415)" style="fill: #dd8452; stroke: #dd8452; stroke-width: 3.368; stroke: #dd8452; stroke-width: 3.368"/>
</g>
</g>
<g id="line2d_39">
<path d="M 1283.152273 423.9247
L 1465.163636 336.306675
L 1647.175 343.055175
L 1829.186364 310.32495
L 2011.197727 318.6481
" clip-path="url(#pe6a1229e98)" style="fill: none; stroke-dasharray: 32.32,8.08,5.05,8.08; stroke-dashoffset: 0; stroke: #55a868; stroke-width: 4.6"/>
<g clip-path="url(#pe6a1229e98)">
<path d="M -10.104 10.104
L 10.104 10.104
L 10.104 -10.104
L -10.104 -10.104
z
" transform="translate(1283.152273 423.9247)" style="fill: #55a868; stroke: #55a868; stroke-width: 3.368; stroke-linejoin: miter; stroke: #55a868; stroke-width: 3.368; stroke-linejoin: miter"/>
<path d="M -10.104 10.104
L 10.104 10.104
L 10.104 -10.104
L -10.104 -10.104
z
" transform="translate(1465.163636 336.306675)" style="fill: #55a868; stroke: #55a868; stroke-width: 3.368; stroke-linejoin: miter; stroke: #55a868; stroke-width: 3.368; stroke-linejoin: miter"/>
<path d="M -10.104 10.104
L 10.104 10.104
L 10.104 -10.104
L -10.104 -10.104
z
" transform="translate(1647.175 343.055175)" style="fill: #55a868; stroke: #55a868; stroke-width: 3.368; stroke-linejoin: miter; stroke: #55a868; stroke-width: 3.368; stroke-linejoin: miter"/>
<path d="M -10.104 10.104
L 10.104 10.104
L 10.104 -10.104
L -10.104 -10.104
z
" transform="translate(1829.186364 310.32495)" style="fill: #55a868; stroke: #55a868; stroke-width: 3.368; stroke-linejoin: miter; stroke: #55a868; stroke-width: 3.368; stroke-linejoin: miter"/>
<path d="M -10.104 10.104
L 10.104 10.104
L 10.104 -10.104
L -10.104 -10.104
z
" transform="translate(2011.197727 318.6481)" style="fill: #55a868; stroke: #55a868; stroke-width: 3.368; stroke-linejoin: miter; stroke: #55a868; stroke-width: 3.368; stroke-linejoin: miter"/>
</g>
</g>
<g id="line2d_40">
<path d="M 1283.152273 395.1311
L 1465.163636 356.552175
L 1647.175 313.47425
L 1829.186364 261.9607
L 2011.197727 290.97925
" clip-path="url(#pe6a1229e98)" style="fill: none; stroke-dasharray: 5.05,8.3325; stroke-dashoffset: 0; stroke: #c44e52; stroke-width: 4.6"/>
<g clip-path="url(#pe6a1229e98)">
<path d="M 0 -10.104
L -2.268489 -3.122308
L -9.609475 -3.122308
L -3.670493 1.192615
L -5.938982 8.174308
L -0 3.859384
L 5.938982 8.174308
L 3.670493 1.192615
L 9.609475 -3.122308
L 2.268489 -3.122308
z
" transform="translate(1283.152273 395.1311)" style="fill: #c44e52; stroke: #c44e52; stroke-width: 3.368; stroke-linejoin: bevel; stroke: #c44e52; stroke-width: 3.368; stroke-linejoin: bevel"/>
<path d="M 0 -10.104
L -2.268489 -3.122308
L -9.609475 -3.122308
L -3.670493 1.192615
L -5.938982 8.174308
L -0 3.859384
L 5.938982 8.174308
L 3.670493 1.192615
L 9.609475 -3.122308
L 2.268489 -3.122308
z
" transform="translate(1465.163636 356.552175)" style="fill: #c44e52; stroke: #c44e52; stroke-width: 3.368; stroke-linejoin: bevel; stroke: #c44e52; stroke-width: 3.368; stroke-linejoin: bevel"/>
<path d="M 0 -10.104
L -2.268489 -3.122308
L -9.609475 -3.122308
L -3.670493 1.192615
L -5.938982 8.174308
L -0 3.859384
L 5.938982 8.174308
L 3.670493 1.192615
L 9.609475 -3.122308
L 2.268489 -3.122308
z
" transform="translate(1647.175 313.47425)" style="fill: #c44e52; stroke: #c44e52; stroke-width: 3.368; stroke-linejoin: bevel; stroke: #c44e52; stroke-width: 3.368; stroke-linejoin: bevel"/>
<path d="M 0 -10.104
L -2.268489 -3.122308
L -9.609475 -3.122308
L -3.670493 1.192615
L -5.938982 8.174308
L -0 3.859384
L 5.938982 8.174308
L 3.670493 1.192615
L 9.609475 -3.122308
L 2.268489 -3.122308
z
" transform="translate(1829.186364 261.9607)" style="fill: #c44e52; stroke: #c44e52; stroke-width: 3.368; stroke-linejoin: bevel; stroke: #c44e52; stroke-width: 3.368; stroke-linejoin: bevel"/>
<path d="M 0 -10.104
L -2.268489 -3.122308
L -9.609475 -3.122308
L -3.670493 1.192615
L -5.938982 8.174308
L -0 3.859384
L 5.938982 8.174308
L 3.670493 1.192615
L 9.609475 -3.122308
L 2.268489 -3.122308
z
" transform="translate(2011.197727 290.97925)" style="fill: #c44e52; stroke: #c44e52; stroke-width: 3.368; stroke-linejoin: bevel; stroke: #c44e52; stroke-width: 3.368; stroke-linejoin: bevel"/>
</g>
</g>
<g id="line2d_41">
<path d="M 1283.152273 642.1262
L 1465.163636 624.242675
L 1647.175 571.829325
L 1829.186364 468.577275
L 2011.197727 507.268675
" clip-path="url(#pe6a1229e98)" style="fill: none; stroke-dasharray: 18.685,8.08; stroke-dashoffset: 0; stroke: #8172b3; stroke-width: 4.6"/>
<g clip-path="url(#pe6a1229e98)">
<path d="M -0 10.104
L 10.104 -10.104
L -10.104 -10.104
z
" transform="translate(1283.152273 642.1262)" style="fill: #8172b3; stroke: #8172b3; stroke-width: 3.368; stroke-linejoin: miter; stroke: #8172b3; stroke-width: 3.368; stroke-linejoin: miter"/>
<path d="M -0 10.104
L 10.104 -10.104
L -10.104 -10.104
z
" transform="translate(1465.163636 624.242675)" style="fill: #8172b3; stroke: #8172b3; stroke-width: 3.368; stroke-linejoin: miter; stroke: #8172b3; stroke-width: 3.368; stroke-linejoin: miter"/>
<path d="M -0 10.104
L 10.104 -10.104
L -10.104 -10.104
z
" transform="translate(1647.175 571.829325)" style="fill: #8172b3; stroke: #8172b3; stroke-width: 3.368; stroke-linejoin: miter; stroke: #8172b3; stroke-width: 3.368; stroke-linejoin: miter"/>
<path d="M -0 10.104
L 10.104 -10.104
L -10.104 -10.104
z
" transform="translate(1829.186364 468.577275)" style="fill: #8172b3; stroke: #8172b3; stroke-width: 3.368; stroke-linejoin: miter; stroke: #8172b3; stroke-width: 3.368; stroke-linejoin: miter"/>
<path d="M -0 10.104
L 10.104 -10.104
L -10.104 -10.104
z
" transform="translate(2011.197727 507.268675)" style="fill: #8172b3; stroke: #8172b3; stroke-width: 3.368; stroke-linejoin: miter; stroke: #8172b3; stroke-width: 3.368; stroke-linejoin: miter"/>
</g>
</g>
<g id="line2d_42">
<path d="M 1283.152273 731.43135
L 1465.163636 701.73795
L 1647.175 616.819325
L 1829.186364 494.78395
L 2011.197727 581.952075
" clip-path="url(#pe6a1229e98)" style="fill: none; stroke: #937860; stroke-width: 4.6; stroke-linecap: round"/>
<g clip-path="url(#pe6a1229e98)">
<path d="M -10.104 10.104
L 10.104 -10.104
M -10.104 -10.104
L 10.104 10.104
" transform="translate(1283.152273 731.43135)" style="fill: #937860; stroke: #937860; stroke-width: 3.368; stroke: #937860; stroke-width: 3.368"/>
<path d="M -10.104 10.104
L 10.104 -10.104
M -10.104 -10.104
L 10.104 10.104
" transform="translate(1465.163636 701.73795)" style="fill: #937860; stroke: #937860; stroke-width: 3.368; stroke: #937860; stroke-width: 3.368"/>
<path d="M -10.104 10.104
L 10.104 -10.104
M -10.104 -10.104
L 10.104 10.104
" transform="translate(1647.175 616.819325)" style="fill: #937860; stroke: #937860; stroke-width: 3.368; stroke: #937860; stroke-width: 3.368"/>
<path d="M -10.104 10.104
L 10.104 -10.104
M -10.104 -10.104
L 10.104 10.104
" transform="translate(1829.186364 494.78395)" style="fill: #937860; stroke: #937860; stroke-width: 3.368; stroke: #937860; stroke-width: 3.368"/>
<path d="M -10.104 10.104
L 10.104 -10.104
M -10.104 -10.104
L 10.104 10.104
" transform="translate(2011.197727 581.952075)" style="fill: #937860; stroke: #937860; stroke-width: 3.368; stroke: #937860; stroke-width: 3.368"/>
</g>
</g>
<g id="patch_9">
<path d="M 1246.75 760
L 1246.75 85.15
" style="fill: none; stroke: #cccccc; stroke-width: 3.6; stroke-linejoin: miter; stroke-linecap: square"/>
</g>
<g id="patch_10">
<path d="M 2047.6 760
L 2047.6 85.15
" style="fill: none; stroke: #cccccc; stroke-width: 3.6; stroke-linejoin: miter; stroke-linecap: square"/>
</g>
<g id="patch_11">
<path d="M 1246.75 760
L 2047.6 760
" style="fill: none; stroke: #cccccc; stroke-width: 3.6; stroke-linejoin: miter; stroke-linecap: square"/>
</g>
<g id="patch_12">
<path d="M 1246.75 85.15
L 2047.6 85.15
" style="fill: none; stroke: #cccccc; stroke-width: 3.6; stroke-linejoin: miter; stroke-linecap: square"/>
</g>
<g id="text_34">
<g style="fill: #262626" transform="translate(1305.86188 59.45) scale(1 0.95)">
<text><tspan x="0.000" y="-0.609375" style="font-weight: 700; font-size: 40.416px; font-family: 'DejaVu Sans', 'Liberation Sans', sans-serif; fill: #262626">(b)</tspan> <tspan x="78.641" y="-0.609375" style="font-style: oblique; font-size: 40.416px; font-family: 'DejaVu Sans', 'Liberation Sans', sans-serif; fill: #262626">F</tspan><tspan x="101.864" y="5.953125" style="font-size: 28.2912px; font-family: 'DejaVu Sans', 'Liberation Sans', sans-serif; fill: #262626">1</tspan><tspan x="119.846" y="5.953125" style="font-style: oblique; font-size: 28.2912px; font-family: 'DejaVu Sans', 'Liberation Sans', sans-serif; fill: #262626">e</tspan> <tspan x="151.161" y="-0.609375" style="font-size: 40.416px; font-family: 'DejaVu Sans', 'Liberation Sans', sans-serif; fill: #262626">for various sensor subsets</tspan></text>
</g>
</g>
</g>
</g>
<defs>
<clipPath id="pf3c92c4328">
<rect x="171.2" y="85.15" width="800.6" height="674.85"/>
</clipPath>
<clipPath id="pe6a1229e98">
<rect x="1246.75" y="85.15" width="800.85" height="674.85"/>
</clipPath>
</defs>
</g></svg>

</body></html>
